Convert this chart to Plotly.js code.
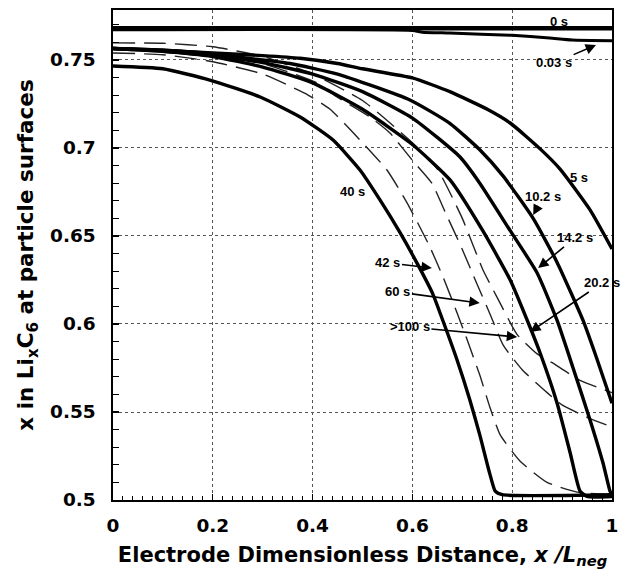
<!DOCTYPE html>
<html>
<head>
<meta charset="utf-8">
<script src="https://cdn.plot.ly/plotly-3.0.1.min.js"></script>
<style>html,body{margin:0;padding:0;background:#fff;}#chart{width:634px;height:571px;}</style>
</head>
<body>
<div id="chart"></div>
<script>
// ---- data ----
const x_0s   = [0, 1];
const y_0s   = [0.768, 0.768];
const x_003s = [0, 0.6, 0.62, 0.675, 0.8, 0.875, 0.92, 1];
const y_003s = [0.7672, 0.7668, 0.7658, 0.7653, 0.764, 0.7625, 0.7614, 0.761];
const x_5s   = [0, 0.1, 0.2, 0.3, 0.375, 0.45, 0.5, 0.6, 0.675, 0.75, 0.796, 0.856, 0.896, 0.956, 1];
const y_5s   = [0.7565, 0.7555, 0.754, 0.7525, 0.751, 0.748, 0.745, 0.7398, 0.732, 0.722, 0.7142, 0.6995, 0.688, 0.6648, 0.6426];
const x_10s  = [0, 0.1, 0.2, 0.3, 0.355, 0.45, 0.595, 0.675, 0.735, 0.782, 0.842, 0.89, 0.942, 0.97, 1];
const y_10s  = [0.7565, 0.7555, 0.7535, 0.75, 0.748, 0.742, 0.7273, 0.714, 0.699, 0.684, 0.66, 0.635, 0.602, 0.58, 0.555];
const x_14s  = [0, 0.1, 0.2, 0.3, 0.4, 0.5, 0.6, 0.695, 0.735, 0.796, 0.85, 0.89, 0.922, 0.956, 0.982, 0.996, 1];
const y_14s  = [0.7565, 0.755, 0.7525, 0.7485, 0.742, 0.732, 0.717, 0.695, 0.68, 0.653, 0.629, 0.602, 0.575, 0.5455, 0.521, 0.505, 0.503];
const x_20s  = [0, 0.1, 0.2, 0.3, 0.4, 0.5, 0.6, 0.675, 0.741, 0.796, 0.836, 0.856, 0.89, 0.916, 0.936, 0.95, 1];
const y_20s  = [0.7565, 0.755, 0.752, 0.746, 0.737, 0.722, 0.702, 0.682, 0.653, 0.625, 0.598, 0.5835, 0.555, 0.527, 0.505, 0.502, 0.502];
const x_40s  = [0, 0.1, 0.194, 0.295, 0.375, 0.441, 0.495, 0.535, 0.575, 0.609, 0.641, 0.661, 0.689, 0.715, 0.735, 0.755, 0.766, 0.78, 1];
const y_40s  = [0.7466, 0.745, 0.7386, 0.729, 0.7176, 0.7045, 0.6875, 0.6705, 0.652, 0.6347, 0.617, 0.602, 0.58, 0.557, 0.537, 0.515, 0.505, 0.503, 0.503];
const x_42s  = [0, 0.1, 0.2, 0.3, 0.385, 0.435, 0.495, 0.549, 0.589, 0.633, 0.661, 0.69, 0.711, 0.735, 0.755, 0.776, 0.816, 0.87, 0.93, 1];
const y_42s  = [0.754, 0.753, 0.749, 0.742, 0.731, 0.722, 0.7045, 0.6875, 0.669, 0.645, 0.627, 0.606, 0.59, 0.571, 0.553, 0.537, 0.522, 0.51, 0.5045, 0.503];
const x_60s  = [0, 0.1, 0.2, 0.3, 0.409, 0.449, 0.515, 0.555, 0.6, 0.639, 0.665, 0.699, 0.729, 0.755, 0.782, 0.82, 0.87, 0.9, 0.95, 1];
const y_60s  = [0.757, 0.756, 0.754, 0.748, 0.737, 0.729, 0.7176, 0.7085, 0.693, 0.68, 0.664, 0.643, 0.623, 0.606, 0.588, 0.574, 0.561, 0.554, 0.547, 0.5415];
const x_100s = [0, 0.1, 0.2, 0.3, 0.4, 0.5, 0.6, 0.65, 0.7, 0.741, 0.77, 0.81, 0.85, 0.88, 0.936, 1];
const y_100s = [0.7597, 0.7595, 0.7575, 0.752, 0.742, 0.727, 0.703, 0.688, 0.66, 0.631, 0.615, 0.594, 0.583, 0.578, 0.568, 0.561];

const labels      = ['0 s', '0.03 s', '5 s', '10.2 s', '14.2 s', '20.2 s', '40 s', '42 s', '60 s', '>100 s'];
const xTickVals   = [0, 0.2, 0.4, 0.6, 0.8, 1];
const xTickText   = ['0', '0.2', '0.4', '0.6', '0.8', '1'];
const yTickVals   = [0.5, 0.55, 0.6, 0.65, 0.7, 0.75];
const yTickText   = ['0.5', '0.55', '0.6', '0.65', '0.7', '0.75'];

// ---- styling / placement ----
const FONT = 'DejaVu Sans, Verdana, sans-serif';
const LFONT = 'Liberation Sans, Arial, Helvetica, sans-serif';
function solid(x, y, name, w) {
  return {x: x, y: y, name: name, mode: 'lines', type: 'scatter',
          line: {color: '#000', width: w || 3.4, shape: 'spline', smoothing: 0.5}, hoverinfo: 'skip'};
}
function dashed(x, y, name) {
  return {x: x, y: y, name: name, mode: 'lines', type: 'scatter',
          line: {color: '#222', width: 1.4, dash: '22px,9px', shape: 'spline', smoothing: 0.5}, hoverinfo: 'skip'};
}
const traces = [
  dashed(x_42s, y_42s, labels[7]),
  dashed(x_60s, y_60s, labels[8]),
  dashed(x_100s, y_100s, labels[9]),
  solid(x_0s, y_0s, labels[0], 4.6),
  solid(x_003s, y_003s, labels[1], 3),
  solid(x_5s, y_5s, labels[2]),
  solid(x_10s, y_10s, labels[3]),
  solid(x_14s, y_14s, labels[4]),
  solid(x_20s, y_20s, labels[5]),
  solid(x_40s, y_40s, labels[6])
];

const lf = {family: LFONT, size: 13, color: '#000', weight: 'bold'};
function txt(t, x, y) {
  return {text: t, x: x, y: y, xref: 'x', yref: 'y', showarrow: false, font: lf};
}
function arr(t, x, y, tx, ty) {
  return {text: t, x: x, y: y, xref: 'x', yref: 'y', ax: tx, ay: ty, axref: 'x', ayref: 'y',
          showarrow: true, arrowhead: 2, arrowsize: 1.3, arrowwidth: 1.6, arrowcolor: '#000', font: lf, standoff: 0};
}
const annotations = [
  txt(labels[0], 0.894, 0.7716),
  arr(labels[1], 0.968, 0.7585, 0.884, 0.7483),
  txt(labels[2], 0.934, 0.6835),
  arr(labels[3], 0.842, 0.6619, 0.862, 0.6722),
  arr(labels[4], 0.852, 0.6318, 0.926, 0.6489),
  arr(labels[5], 0.836, 0.5955, 0.98, 0.6233),
  txt(labels[6], 0.479, 0.675),
  arr(labels[7], 0.639, 0.6318, 0.551, 0.6347),
  arr(labels[8], 0.735, 0.6119, 0.571, 0.6182),
  arr(labels[9], 0.81, 0.5926, 0.595, 0.5983)
];
annotations.forEach(a => { a.xanchor = 'center'; a.yanchor = 'middle'; });

const tickFont = {family: FONT, size: 18.5, color: '#000', weight: 'bold'};
const layout = {
  width: 634, height: 571,
  margin: {l: 113, r: 22, t: 10, b: 71, pad: 0},
  paper_bgcolor: '#fff', plot_bgcolor: '#fff',
  showlegend: false,
  xaxis: {
    range: [0, 1], tickmode: 'array', tickvals: xTickVals, ticktext: xTickText,
    ticks: 'inside', ticklen: 6, tickwidth: 1.2, tickcolor: '#000',
    minor: {dtick: 0.02, tick0: 0, ticks: 'inside', ticklen: 4, tickwidth: 1, tickcolor: '#000', showgrid: false},
    showgrid: true, gridcolor: '#555', gridwidth: 1, griddash: '3px,3px',
    showline: true, linecolor: '#000', linewidth: 1.6, mirror: true, zeroline: false,
    tickfont: tickFont, ticklabelstandoff: 8,
    title: {text: 'Electrode Dimensionless Distance, <i>x /L</i><sub><i>neg</i></sub>',
            font: {family: FONT, size: 21, color: '#000', weight: 'bold'}, standoff: 12}
  },
  yaxis: {
    range: [0.5, 0.7784], tickmode: 'array', tickvals: yTickVals, ticktext: yTickText,
    ticks: 'inside', ticklen: 6, tickwidth: 1.2, tickcolor: '#000',
    minor: {dtick: 0.01, tick0: 0.5, ticks: 'inside', ticklen: 6, tickwidth: 1, tickcolor: '#000', showgrid: false},
    showgrid: true, gridcolor: '#555', gridwidth: 1, griddash: '3px,3px',
    showline: true, linecolor: '#000', linewidth: 1.6, mirror: true, zeroline: false,
    tickfont: tickFont, ticklabelstandoff: 12,
    title: {text: 'x in Li<sub>x</sub>C<sub>6</sub> at particle surfaces',
            font: {family: FONT, size: 21.5, color: '#000', weight: 'bold'}, standoff: 10}
  },
  annotations: annotations
};
Plotly.newPlot('chart', traces, layout, {staticPlot: true, displayModeBar: false});
</script>
</body>
</html>
